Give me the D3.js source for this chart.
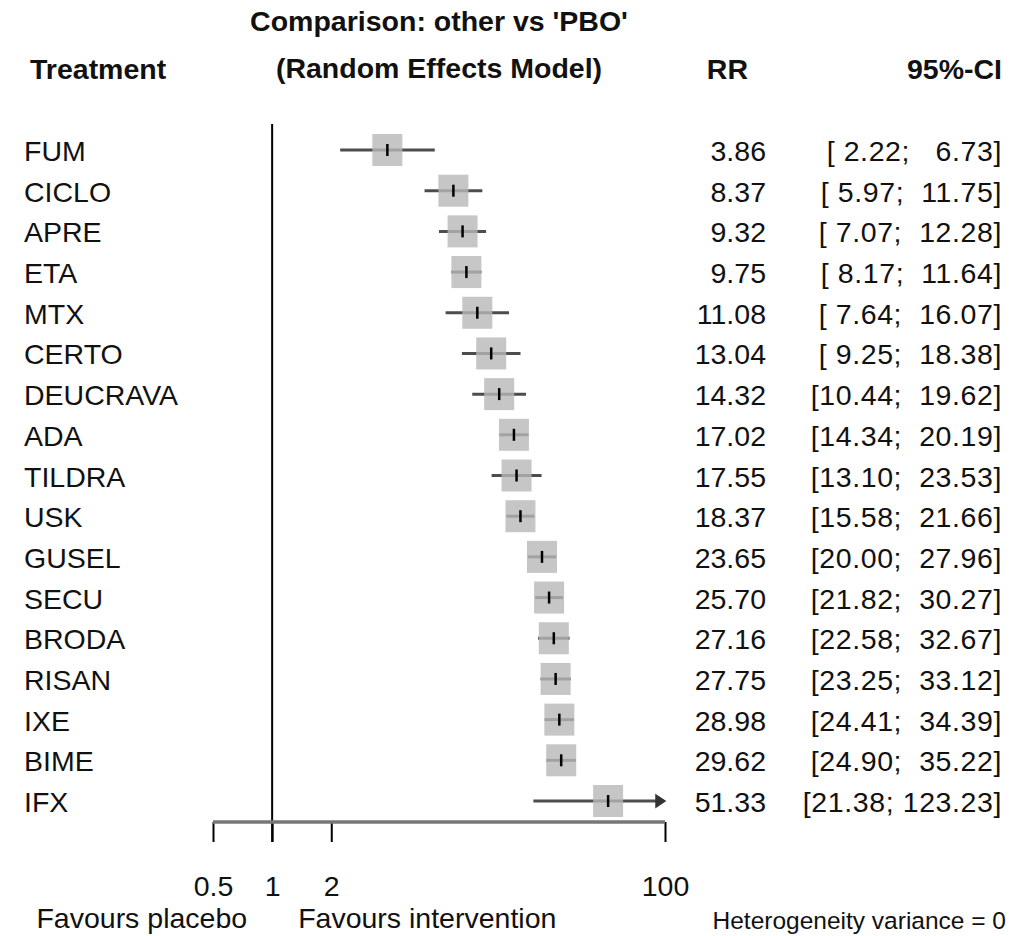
<!DOCTYPE html>
<html>
<head>
<meta charset="utf-8">
<script src="https://cdn.jsdelivr.net/npm/d3@7"></script>
<style>
  html, body { margin: 0; padding: 0; background: #fff; }
  svg text { font-family: "Liberation Sans", Arial, sans-serif; fill: #111; white-space: pre; }
</style>
</head>
<body>
<svg id="chart" width="1013" height="936"></svg>
<script>
// Network meta-analysis results: risk ratio of each treatment versus placebo
const treatments = ["FUM", "CICLO", "APRE", "ETA", "MTX", "CERTO", "DEUCRAVA", "ADA", "TILDRA",
                    "USK", "GUSEL", "SECU", "BRODA", "RISAN", "IXE", "BIME", "IFX"];
const rr    = [3.86, 8.37, 9.32, 9.75, 11.08, 13.04, 14.32, 17.02, 17.55,
               18.37, 23.65, 25.70, 27.16, 27.75, 28.98, 29.62, 51.33];
const lower = [2.22, 5.97, 7.07, 8.17, 7.64, 9.25, 10.44, 14.34, 13.10,
               15.58, 20.00, 21.82, 22.58, 23.25, 24.41, 24.90, 21.38];
const upper = [6.73, 11.75, 12.28, 11.64, 16.07, 18.38, 19.62, 20.19, 23.53,
               21.66, 27.96, 30.27, 32.67, 33.12, 34.39, 35.22, 123.23];
const tickValues = [0.5, 1, 2, 100];

const svg = d3.select("#chart");
const FS = 28.5;
const rrRight = 766, ciRight = 1002;

const x = d3.scaleLog().domain([0.5, 100]).range([213, 665]);
const y = d3.scalePoint().domain(treatments).range([150, 801]);
const [xMin, xMax] = x.domain();

// Column headers
const head = svg.append("g").attr("font-weight", "bold").attr("font-size", FS);
head.append("text").attr("x", 439).attr("y", 31).attr("text-anchor", "middle")
  .text("Comparison: other vs 'PBO'");
head.append("text").attr("x", 439).attr("y", 78).attr("text-anchor", "middle")
  .text("(Random Effects Model)");
head.append("text").attr("x", 30).attr("y", 79).text("Treatment");
head.append("text").attr("x", 748).attr("y", 79).attr("text-anchor", "end").text("RR");
head.append("text").attr("x", ciRight).attr("y", 79).attr("text-anchor", "end").text("95%-CI");

// Line of no effect
svg.append("line")
  .attr("x1", x(1)).attr("x2", x(1))
  .attr("y1", 124).attr("y2", 842)
  .attr("stroke", "#000").attr("stroke-width", 2);

// Rows
const rows = treatments.map((t, i) => ({ t, rr: rr[i], lo: lower[i], hi: upper[i] }));
const fmt = d3.format(".2f");
const pad = (s, n) => s.padStart(n, " ");

const g = svg.append("g");
const row = g.selectAll("g.row").data(rows).join("g").attr("class", "row");

// confidence interval whisker (clipped to the axis range)
row.append("line")
  .attr("x1", d => x(Math.max(d.lo, xMin)))
  .attr("x2", d => d.hi > xMax ? x(xMax) - 6 : x(d.hi))
  .attr("y1", d => y(d.t)).attr("y2", d => y(d.t))
  .attr("stroke", "#4d4d4d").attr("stroke-width", 3);

// point estimate box, translucent so the whisker shows through
row.append("rect")
  .attr("x", d => x(d.rr) - 15).attr("y", d => y(d.t) - 16)
  .attr("width", 30).attr("height", 32)
  .attr("fill", "#b8b8b8").attr("fill-opacity", 0.8);

row.append("line")
  .attr("x1", d => x(d.rr)).attr("x2", d => x(d.rr))
  .attr("y1", d => y(d.t) - 6).attr("y2", d => y(d.t) + 6)
  .attr("stroke", "#000").attr("stroke-width", 2.5);

// arrow where the interval runs past the axis
row.filter(d => d.hi > xMax).append("path")
  .attr("d", d => {
    const xe = x(xMax), yc = y(d.t);
    return `M${xe - 9},${yc - 6} L${xe},${yc} L${xe - 9},${yc + 6} Z`;
  })
  .attr("fill", "#333").attr("stroke", "#333").attr("stroke-width", 1.5);

// labels
row.append("text").attr("x", 24).attr("y", d => y(d.t) + 11)
  .attr("font-size", FS).text(d => d.t);
row.append("text").attr("x", rrRight).attr("y", d => y(d.t) + 11)
  .attr("font-size", FS).attr("text-anchor", "end").text(d => fmt(d.rr));
row.append("text").attr("x", ciRight).attr("y", d => y(d.t) + 11)
  .attr("font-size", FS).attr("text-anchor", "end").attr("letter-spacing", 0.6)
  .text(d => `[${pad(fmt(d.lo), 5)}; ${pad(fmt(d.hi), 6)}]`);

// Bottom axis
const axisY = 822;
const axis = svg.append("g").attr("transform", `translate(0,${axisY})`)
  .call(d3.axisBottom(x).tickValues(tickValues).tickFormat(d3.format("")).tickSize(20).tickPadding(34));
axis.select(".domain").remove();
axis.selectAll(".tick line").attr("stroke", "#000").attr("stroke-width", 2);
axis.selectAll(".tick text").attr("font-size", FS).attr("fill", "#111")
  .attr("font-family", "Liberation Sans, Arial, sans-serif");
svg.append("line")
  .attr("x1", x(xMin)).attr("x2", x(xMax))
  .attr("y1", axisY).attr("y2", axisY)
  .attr("stroke", "#777").attr("stroke-width", 3.5);

// Direction labels
svg.append("text").attr("x", x(1) - 25).attr("y", 928).attr("font-size", FS)
  .attr("text-anchor", "end").text("Favours placebo");
svg.append("text").attr("x", x(1) + 26).attr("y", 928).attr("font-size", FS)
  .text("Favours intervention");
svg.append("text").attr("x", 1006).attr("y", 929).attr("font-size", 24.5)
  .attr("text-anchor", "end").text("Heterogeneity variance = 0");
</script>
</body>
</html>
